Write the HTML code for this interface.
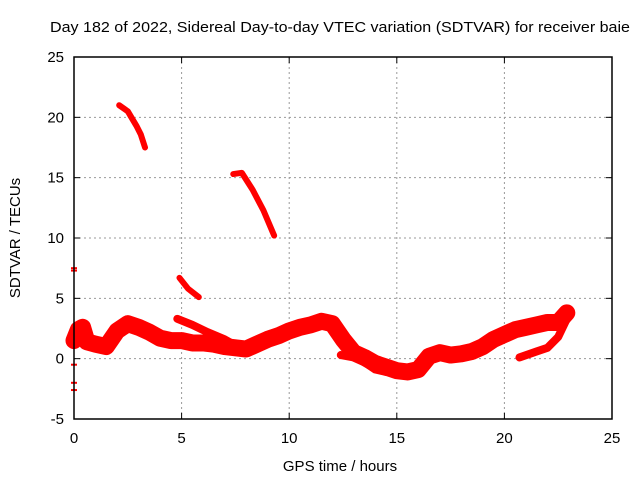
<!DOCTYPE html>
<html><head><meta charset="utf-8"><style>
body{margin:0;background:#fff;}
svg{display:block;font-family:"Liberation Sans",sans-serif;}
</style></head><body>
<svg id="chart" width="640" height="480">
<rect x="0" y="0" width="640" height="480" fill="#fff"/>
<text x="50" y="32" font-size="15" textLength="580" lengthAdjust="spacingAndGlyphs">Day 182 of 2022, Sidereal Day-to-day VTEC variation (SDTVAR) for receiver baie</text>
<text x="340" y="471" text-anchor="middle" font-size="15">GPS time / hours</text>
<text transform="translate(20,238) rotate(-90)" text-anchor="middle" font-size="15">SDTVAR / TECUs</text>
<g id="grid"></g><g id="ticks"></g><g id="marks"></g>
<rect x="74" y="57" width="538" height="362" fill="none" stroke="#000" stroke-width="1.5"/>
</svg>
<script>
const xTicks=[0,5,10,15,20,25];
const yTicks=[-5,0,5,10,15,20,25];
const mainBand=[[0,1.5],[0.2,2.4],[0.4,2.6],[0.6,1.4],[1,1.2],[1.5,1.0],[2,2.3],[2.5,2.9],[3,2.6],[3.5,2.2],[4,1.7],[4.5,1.5],[5,1.5],[5.5,1.3],[6,1.3],[6.5,1.2],[7,1.0],[7.5,0.9],[8,0.8],[8.5,1.2],[9,1.6],[9.5,1.9],[10,2.3],[10.5,2.6],[11,2.8],[11.5,3.1],[12,2.9],[12.5,1.6],[13,0.5],[13.5,0.1],[14,-0.4],[14.5,-0.7],[15,-1.0],[15.5,-1.1],[16,-0.9],[16.5,0.2],[17,0.5],[17.5,0.3],[18,0.4],[18.5,0.6],[19,1.0],[19.5,1.6],[20,2.0],[20.5,2.4],[21,2.6],[21.5,2.8],[22,3.0],[22.5,3.0],[22.9,3.8]];
const branchA=[[4.8,3.3],[5.5,2.8],[6.2,2.2],[7,1.6],[7.5,1.1],[8,0.8]];
const branchB=[[12.4,0.3],[13,0.1],[13.5,-0.3],[14,-0.9],[14.5,-1.1]];
const branchC=[[20.7,0.1],[21.5,0.6],[22,0.9],[22.5,1.8],[22.9,3.3]];
const arc1=[[2.1,21],[2.5,20.5],[2.9,19.3],[3.1,18.6],[3.3,17.5]];
const arc2=[[7.4,15.3],[7.8,15.4],[8.3,14],[8.8,12.3],[9.3,10.2]];
const arc3=[[4.9,6.7],[5.3,5.8],[5.8,5.1]];
const outliers=[[0,7.5],[0,7.3],[0,-0.5],[0,-2.0],[0,-2.6]];
const X=t=>74+t*538/25, Y=v=>419-(v+5)*362/30;
const NS="http://www.w3.org/2000/svg";
function mk(tag,attrs,parent){const e=document.createElementNS(NS,tag);for(const k in attrs)e.setAttribute(k,attrs[k]);document.getElementById(parent).appendChild(e);return e;}
xTicks.forEach(t=>{
 if(t>0&&t<25){const g=mk('line',{x1:X(t),x2:X(t),y1:57,y2:419,stroke:'#999','stroke-dasharray':'2,3'},'grid');
 
 }
 const l=mk('text',{x:X(t),y:443,'text-anchor':'middle','font-size':15},'ticks');l.textContent=t;
 
 
 mk('line',{x1:X(t),x2:X(t),y1:419,y2:413,stroke:'#000'},'ticks');mk('line',{x1:X(t),x2:X(t),y1:57,y2:63,stroke:'#000'},'ticks');
});
yTicks.forEach(v=>{
 if(v>-5&&v<25){const g=mk('line',{x1:74,x2:612,y1:Y(v),y2:Y(v),stroke:'#999','stroke-dasharray':'2,3'},'grid');
 
 }
 const l=mk('text',{x:64,y:Y(v)+5,'text-anchor':'end','font-size':15},'ticks');l.textContent=v;
 
 
 mk('line',{x1:74,x2:80,y1:Y(v),y2:Y(v),stroke:'#000'},'ticks');mk('line',{x1:612,x2:606,y1:Y(v),y2:Y(v),stroke:'#000'},'ticks');
});
function series(d,w,name){
 const p=mk('polyline',{points:d.map(q=>X(q[0])+','+Y(q[1])).join(' '),fill:'none',stroke:'#f00','stroke-width':w,'stroke-linejoin':'round','stroke-linecap':'round'},'marks');
 
 
}
series(mainBand,17,'sdtvar-main-band');
series(branchA,8,'sdtvar-branch-a');
series(branchB,8,'sdtvar-branch-b');
series(branchC,8,'sdtvar-branch-c');
series(arc1,6,'sdtvar-arc-1');
series(arc2,6,'sdtvar-arc-2');
series(arc3,6,'sdtvar-arc-3');
outliers.forEach(o=>{
 const r=mk('rect',{x:X(o[0])-3,y:Y(o[1])-1,width:6,height:2,fill:'#f00'},'marks');
 
 
});
</script>
</body></html>
